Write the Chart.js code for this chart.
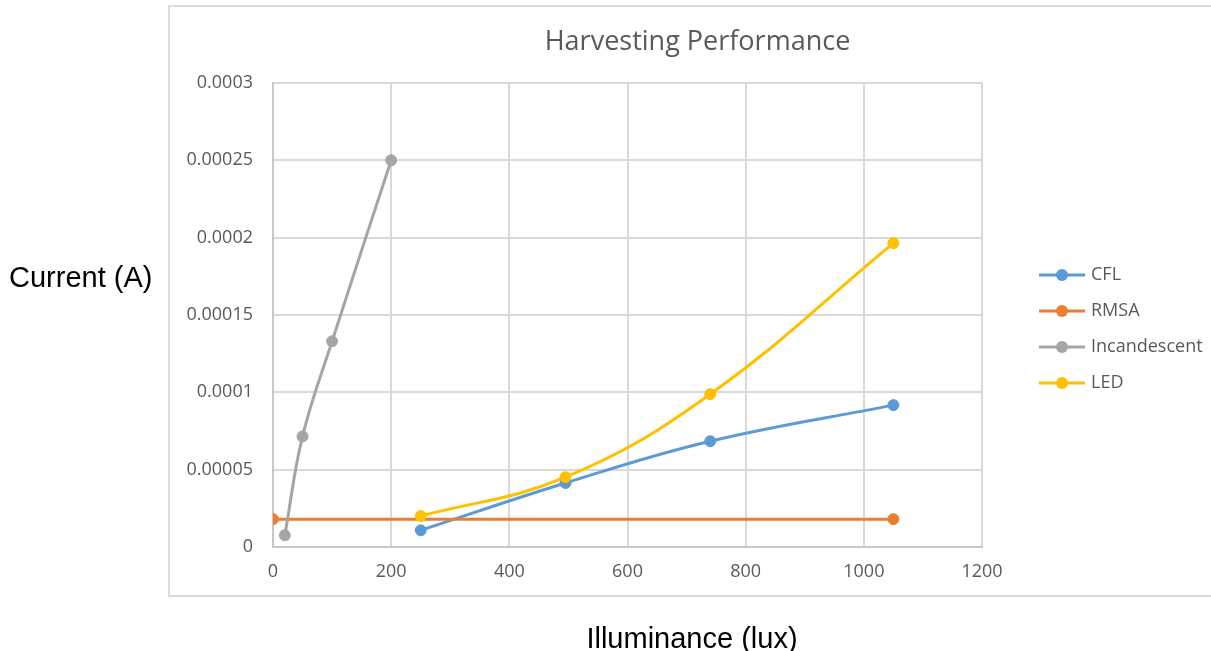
<!DOCTYPE html>
<html>
<head>
<meta charset="utf-8">
<script src="https://cdn.jsdelivr.net/npm/chart.js"></script>
<style>
html, body { margin: 0; padding: 0; background: #fff; overflow: hidden; }
#wrap { position: relative; width: 1211px; height: 651px; }
#frame { position: absolute; left: 168px; top: 5px; width: 1100px; height: 588px; border: 2px solid #dcdcdc; }
#myChart { position: absolute; left: 0; top: 0; }
.axt { position: absolute; font-family: "Liberation Sans", Arial, sans-serif; font-size: 29px; line-height: 34px; color: #000; white-space: nowrap; }
</style>
</head>
<body>
<div id="wrap">
  <div id="frame"></div>
  <canvas id="myChart" width="1211" height="651"></canvas>
  <div class="axt" style="left:9px; top:260px;">Current (A)</div>
  <div class="axt" style="left:0; width:1384px; text-align:center; top:621px;">Illuminance (lux)</div>
</div>
<script>
var seriesNames = ['CFL', 'RMSA', 'Incandescent', 'LED'];
var seriesColors = ['#5b9bd5', '#ed7d31', '#a5a5a5', '#ffc000'];

var cflLux = [250, 495, 740, 1050];
var cflCurrent = [0.0000108, 0.0000414, 0.0000684, 0.0000917];

var rmsaLux = [0, 1050];
var rmsaCurrent = [0.000018, 0.000018];

var incLux = [20, 50, 100, 200];
var incCurrent = [0.0000076, 0.0000715, 0.000133, 0.00025];

var ledLux = [250, 495, 740, 1050];
var ledCurrent = [0.00002, 0.0000451, 0.0000988, 0.0001964];

var xTickValues = [0, 200, 400, 600, 800, 1000, 1200];
var yTickValues = [0, 0.00005, 0.0001, 0.00015, 0.0002, 0.00025, 0.0003];

var tickFont = { family: 'Open Sans', size: 18 };
var textGray = '#595959';

function toPoints(xs, ys) {
    var pts = [];
    for (let i = 0; i < xs.length; i++) {
        pts.push({ x: xs[i], y: ys[i] });
    }
    return pts;
}

function makeSet(i, xs, ys, order) {
    return {
        label: seriesNames[i],
        data: toPoints(xs, ys),
        borderColor: seriesColors[i],
        backgroundColor: seriesColors[i],
        borderWidth: 3,
        pointRadius: 5.5,
        pointBorderWidth: 1,
        pointBackgroundColor: seriesColors[i],
        pointBorderColor: seriesColors[i],
        tension: 0.4,
        showLine: true,
        order: order
    };
}

// legend with a line and a dot, like the spreadsheet one
var lineLegend = {
    id: 'lineLegend',
    afterDraw: function(chart) {
        var ctx = chart.ctx;
        var area = chart.chartArea;
        ctx.save();
        chart.data.datasets.forEach(function(ds, i) {
            var y = area.top + 192 + i * 36;
            var x0 = area.right + 57;
            ctx.strokeStyle = ds.borderColor;
            ctx.lineWidth = 3;
            ctx.beginPath();
            ctx.moveTo(x0, y);
            ctx.lineTo(x0 + 46, y);
            ctx.stroke();
            ctx.fillStyle = ds.borderColor;
            ctx.beginPath();
            ctx.arc(x0 + 23, y, 6, 0, Math.PI * 2);
            ctx.fill();
            ctx.fillStyle = textGray;
            ctx.font = '18px "Open Sans"';
            ctx.textBaseline = 'middle';
            ctx.textAlign = 'left';
            ctx.fillText(ds.label, x0 + 52, y);
        });
        ctx.restore();
    }
};

var ctx = document.getElementById('myChart').getContext('2d');

var chart = new Chart(ctx, {
    type: 'scatter',
    data: {
        datasets: [
            makeSet(0, cflLux, cflCurrent, 3),
            makeSet(1, rmsaLux, rmsaCurrent, 2),
            makeSet(2, incLux, incCurrent, 1),
            makeSet(3, ledLux, ledCurrent, 0)
        ]
    },
    options: {
        responsive: false,
        animation: false,
        layout: { padding: { left: 184, right: 0, top: 0, bottom: 0 } },
        plugins: {
            legend: { display: false },
            tooltip: { enabled: false },
            title: {
                display: true,
                text: 'Harvesting Performance',
                color: textGray,
                font: { family: 'Open Sans', size: 27, weight: 'normal' },
                padding: { top: 26, bottom: 24.5 }
            }
        },
        scales: {
            x: {
                type: 'linear',
                min: 0,
                max: 1200,
                afterBuildTicks: function(s) { s.ticks = xTickValues.map(function(v) { return { value: v }; }); },
                afterFit: function(s) { s.height = 104; },
                ticks: {
                    color: textGray,
                    font: tickFont,
                    padding: 14,
                    callback: function(v) { return String(v); }
                },
                grid: { color: '#d9d9d9', lineWidth: 2, drawTicks: false },
                border: { color: '#c8c8c8', width: 2 }
            },
            y: {
                type: 'linear',
                min: 0,
                max: 0.0003,
                afterBuildTicks: function(s) { s.ticks = yTickValues.map(function(v) { return { value: v }; }); },
                afterFit: function(s) { s.width = 89; },
                ticks: {
                    color: textGray,
                    font: tickFont,
                    padding: 20,
                    callback: function(v) { return String(Number(v.toFixed(6))); }
                },
                grid: { color: '#d9d9d9', lineWidth: 2, drawTicks: false },
                border: { color: '#c8c8c8', width: 2 }
            },
            yRight: {
                type: 'linear',
                position: 'right',
                afterFit: function(s) { s.width = 229; },
                ticks: { display: false },
                grid: { display: false },
                border: { display: false }
            }
        }
    },
    plugins: [lineLegend]
});
</script>
</body>
</html>
